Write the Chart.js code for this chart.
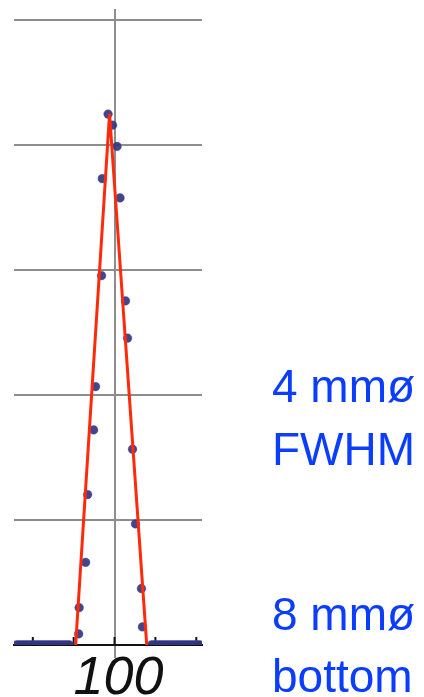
<!DOCTYPE html>
<html>
<head>
<meta charset="utf-8">
<script src="https://cdn.jsdelivr.net/npm/chart.js@4.4.1/dist/chart.umd.min.js"></script>
<style>
  html, body { margin: 0; padding: 0; background: #ffffff; }
  #wrap { position: relative; width: 424px; height: 697px; overflow: hidden; }
  #plot { position: absolute; left: 0; top: 0; width: 424px; height: 697px; }
  .note {
    position: absolute; left: 272px;
    font-family: "Liberation Sans", Arial, Helvetica, sans-serif;
    font-size: 46px; line-height: 46px; color: #0b3dff;
    white-space: nowrap;
  }
</style>
</head>
<body>
<div id="wrap">
  <div id="plot"><canvas id="c"></canvas></div>
  <div class="note" style="top:363px">4 mmø</div>
  <div class="note" style="top:426px">FWHM</div>
  <div class="note" style="top:591px">8 mmø</div>
  <div class="note" style="top:653px">bottom</div>
</div>
<script>
// Measured profile samples (position, relative intensity)
const baseLeftX = [
  88.0, 88.25, 88.5, 88.75, 89.0, 89.25, 89.5, 89.75, 90.0, 90.25, 90.5, 90.75,
  91.0, 91.25, 91.5, 91.75, 92.0, 92.25, 92.5, 92.75, 93.0, 93.25, 93.5, 93.75,
  94.0, 94.25, 94.5
];
const peakX = [
  95.61, 95.67, 96.46, 96.71, 97.44, 97.68, 98.41, 98.50, 99.21, 99.76,
  100.30, 100.67, 101.34, 101.59, 102.20, 102.56, 103.29, 103.41
];
const peakY = [
  0.089, 0.299, 0.662, 1.204, 1.721, 2.068, 2.956, 3.732, 4.249, 4.160,
  3.990, 3.578, 2.754, 2.456, 1.567, 0.969, 0.452, 0.145
];
const baseRightX = [
  104.5, 104.75, 105.0, 105.25, 105.5, 105.75, 106.0, 106.25, 106.5, 106.75,
  107.0, 107.25, 107.5, 107.75, 108.0, 108.25, 108.5, 108.75, 109.0, 109.25,
  109.5, 109.75, 110.0, 110.25, 110.5
];
const baseY = 0; // background level outside the peak

// Triangular fit: left foot, apex, right foot
const fitX = [95.24, 99.39, 103.94];
const fitY = [0, 4.25, 0];

// Axis ticks; only the centre position carries a label
const xTicks = [90, 95, 100, 105, 110];
const xLabels = { 100: '100' };
const yGrid = [0, 1, 2, 3, 4, 5];

const GRID = '#8d8d8d';

const samples = [
  ...baseLeftX.map(x => ({ x, y: baseY })),
  ...peakX.map((x, i) => ({ x, y: peakY[i] })),
  ...baseRightX.map(x => ({ x, y: baseY }))
];
const fit = fitX.map((x, i) => ({ x, y: fitY[i] }));

// Short tick marks pointing up into the plot from the baseline
const innerTicks = {
  id: 'innerTicks',
  beforeDatasetsDraw(chart) {
    const ctx = chart.ctx;
    const xs = chart.scales.x;
    const y0 = chart.scales.y.getPixelForValue(0);
    ctx.save();
    ctx.strokeStyle = '#111111';
    ctx.lineWidth = 2;
    xTicks.forEach(v => {
      const px = xs.getPixelForValue(v);
      ctx.beginPath();
      ctx.moveTo(px, y0);
      ctx.lineTo(px, y0 - 8);
      ctx.stroke();
    });
    ctx.restore();
  }
};

new Chart(document.getElementById('c'), {
  type: 'scatter',
  data: {
    datasets: [
      {
        type: 'line',
        data: fit,
        borderColor: '#ff2a0a',
        borderWidth: 3,
        pointRadius: 0,
        tension: 0,
        fill: false,
        order: 0
      },
      {
        data: samples,
        backgroundColor: 'rgba(46,50,128,0.9)',
        borderColor: 'rgba(70,75,150,0.35)',
        borderWidth: 1,
        pointRadius: 4.4,
        order: 1
      }
    ]
  },
  options: {
    responsive: true,
    maintainAspectRatio: false,
    animation: false,
    layout: { padding: { left: 14, right: 222, top: 9, bottom: -3 } },
    plugins: { legend: { display: false }, tooltip: { enabled: false } },
    scales: {
      x: {
        type: 'linear',
        min: 87.7,
        max: 110.7,
        afterBuildTicks(scale) { scale.ticks = xTicks.map(v => ({ value: v })); },
        ticks: {
          autoSkip: false,
          maxRotation: 0,
          padding: -6,
          labelOffset: 4,
          color: '#111111',
          font: { family: 'Liberation Sans', size: 54, style: 'italic', lineHeight: 1 },
          callback: v => xLabels[v] || ''
        },
        grid: {
          color: c => (c.tick && c.tick.value === 100 ? GRID : 'rgba(0,0,0,0)'),
          tickColor: c => (c.tick && c.tick.value === 100 ? GRID : 'rgba(0,0,0,0)'),
          lineWidth: 2,
          tickLength: 13
        },
        border: { display: true, color: '#111111', width: 2 }
      },
      y: {
        type: 'linear',
        min: 0,
        max: 5.09,
        afterBuildTicks(scale) { scale.ticks = yGrid.map(v => ({ value: v })); },
        ticks: { display: false },
        grid: {
          color: c => (c.tick && c.tick.value === 0 ? 'rgba(0,0,0,0)' : GRID),
          lineWidth: 2,
          drawTicks: false
        },
        border: { display: false }
      }
    }
  },
  plugins: [innerTicks]
});
</script>
</body>
</html>
